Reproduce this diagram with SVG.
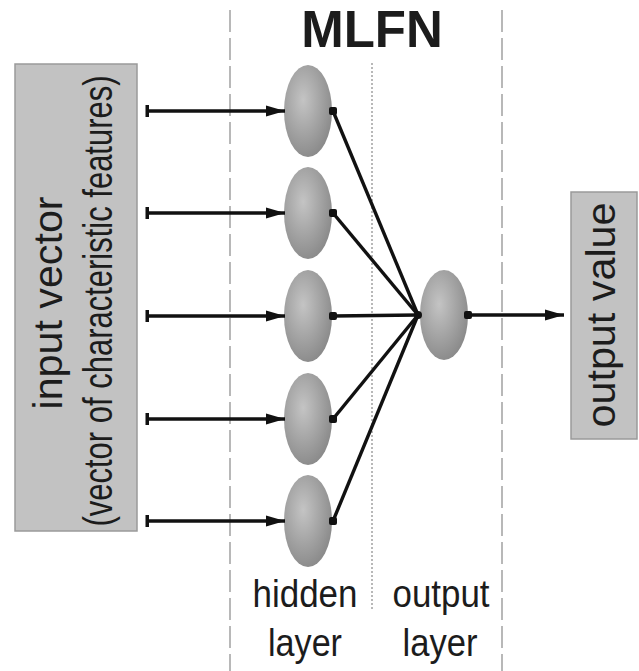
<svg xmlns="http://www.w3.org/2000/svg" width="639" height="671" viewBox="0 0 639 671">
<style>
.box{fill:#c2c2c2;stroke:#9a9a9a;stroke-width:1.5}
.node{fill:url(#g)}
.t{font-family:"Liberation Sans",Arial,sans-serif;fill:#1c1c1c}
.w{stroke:#111;stroke-width:3.4;fill:none}
.sep{stroke:#b8b8b8;stroke-width:2;fill:none}
</style>
<defs>
<radialGradient id="g" cx="0.4" cy="0.38" r="0.65">
<stop offset="0" stop-color="#c4c4c4"/>
<stop offset="1" stop-color="#8a8a8a"/>
</radialGradient>
<marker id="arr" markerUnits="userSpaceOnUse" markerWidth="20" markerHeight="14" refX="19" refY="7" orient="auto">
<path d="M0,1.5 L19,7 L0,12.5 Z" fill="#111"/>
</marker>
<marker id="tick" markerUnits="userSpaceOnUse" markerWidth="5" markerHeight="16" refX="2" refY="8" orient="auto">
<rect x="0.5" y="2" width="3.5" height="12" fill="#111"/>
</marker>
<marker id="dot" markerUnits="userSpaceOnUse" markerWidth="10" markerHeight="10" refX="5" refY="5" orient="0">
<rect x="1" y="1" width="8" height="8" rx="2" fill="#111"/>
</marker>
</defs>

<g id="separators">
<line class="sep" x1="230" y1="10" x2="230" y2="671" stroke-dasharray="22,6"/>
<line class="sep" x1="502" y1="10" x2="502" y2="671" stroke-dasharray="22,6"/>
<line class="sep" x1="372" y1="63" x2="372" y2="610" stroke-dasharray="2,2" stroke="#c8c8c8"/>
</g>

<text class="t" x="372" y="47" font-size="51" font-weight="bold" text-anchor="middle" fill="#000">MLFN</text>

<g id="input">
<rect class="box" x="15" y="64" width="122" height="467"/>
<text class="t" transform="translate(62,303) rotate(-90)" font-size="40" text-anchor="middle" textLength="213" lengthAdjust="spacingAndGlyphs">input vector</text>
<text class="t" transform="translate(112,301) rotate(-90) scale(0.775,1)" font-size="40" text-anchor="middle">(vector of characteristic features)</text>
</g>

<g id="output">
<rect class="box" x="571" y="192" width="66" height="247"/>
<text class="t" transform="translate(615,315) rotate(-90)" font-size="40" text-anchor="middle" textLength="225" lengthAdjust="spacingAndGlyphs">output value</text>
</g>

<g id="h1"><ellipse class="node" cx="308" cy="111" rx="24" ry="46"/></g>
<g id="h2"><ellipse class="node" cx="308" cy="213" rx="24" ry="46"/></g>
<g id="h3"><ellipse class="node" cx="308" cy="316" rx="24" ry="46"/></g>
<g id="h4"><ellipse class="node" cx="308" cy="419" rx="24" ry="46"/></g>
<g id="h5"><ellipse class="node" cx="308" cy="521" rx="24" ry="46"/></g>
<g id="o1"><ellipse class="node" cx="444" cy="315" rx="24" ry="45"/></g>

<g id="connectors">
<line class="w" x1="147" y1="111" x2="285" y2="111" marker-start="url(#tick)" marker-end="url(#arr)"/>
<line class="w" x1="147" y1="213" x2="285" y2="213" marker-start="url(#tick)" marker-end="url(#arr)"/>
<line class="w" x1="147" y1="316" x2="285" y2="316" marker-start="url(#tick)" marker-end="url(#arr)"/>
<line class="w" x1="147" y1="419" x2="285" y2="419" marker-start="url(#tick)" marker-end="url(#arr)"/>
<line class="w" x1="147" y1="521" x2="285" y2="521" marker-start="url(#tick)" marker-end="url(#arr)"/>
<line class="w" x1="333" y1="111" x2="418" y2="315" marker-start="url(#dot)"/>
<line class="w" x1="333" y1="213" x2="418" y2="315" marker-start="url(#dot)"/>
<line class="w" x1="333" y1="316" x2="418" y2="315" marker-start="url(#dot)"/>
<line class="w" x1="333" y1="419" x2="418" y2="315" marker-start="url(#dot)"/>
<line class="w" x1="333" y1="521" x2="418" y2="315" marker-start="url(#dot)"/>
<circle cx="418" cy="315" r="4" fill="#111"/>
<line class="w" x1="468" y1="315" x2="564" y2="315" marker-start="url(#dot)" marker-end="url(#arr)"/>
</g>

<g id="labels">
<text class="t" x="305" y="607" font-size="38" text-anchor="middle" textLength="105" lengthAdjust="spacingAndGlyphs">hidden</text>
<text class="t" x="305" y="656" font-size="38" text-anchor="middle" textLength="74" lengthAdjust="spacingAndGlyphs">layer</text>
<text class="t" x="441" y="607" font-size="38" text-anchor="middle" textLength="97" lengthAdjust="spacingAndGlyphs">output</text>
<text class="t" x="440" y="656" font-size="38" text-anchor="middle" textLength="75" lengthAdjust="spacingAndGlyphs">layer</text>
</g>
</svg>
